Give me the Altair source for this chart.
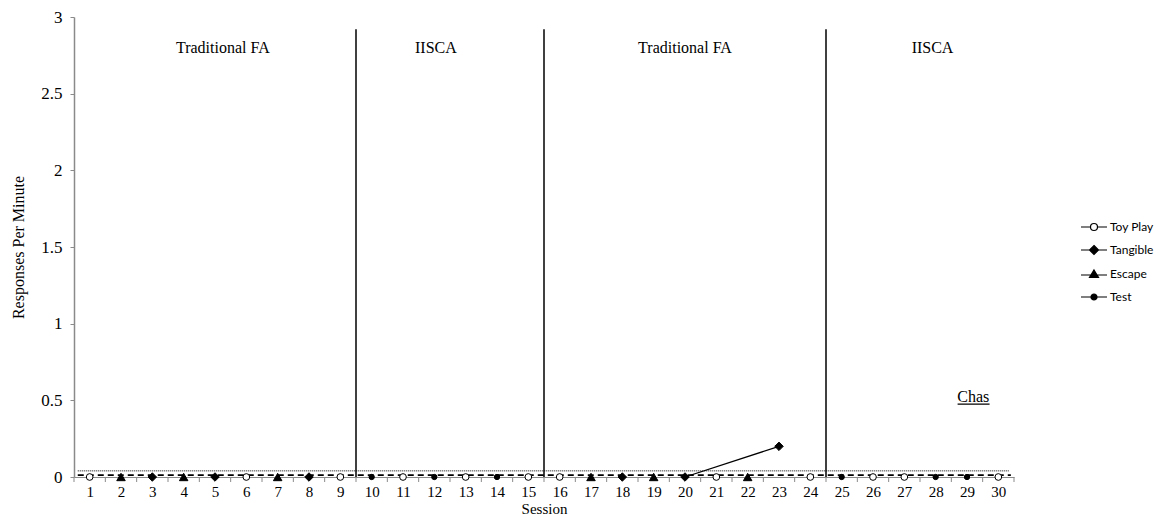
import altair as alt
import pandas as pd

# ---- data ----
sessions = list(range(1, 31))
conditions = ["Toy Play", "Escape", "Tangible", "Escape", "Tangible", "Toy Play",
              "Escape", "Tangible", "Toy Play", "Test", "Toy Play", "Test",
              "Toy Play", "Test", "Toy Play", "Toy Play", "Escape", "Tangible",
              "Escape", "Tangible", "Toy Play", "Escape", "Tangible", "Toy Play",
              "Test", "Toy Play", "Toy Play", "Test", "Test", "Toy Play"]
rates = [0, 0, 0, 0, 0, 0, 0, 0, 0, 0,
         0, 0, 0, 0, 0, 0, 0, 0, 0, 0,
         0, 0, 0.2, 0, 0, 0, 0, 0, 0, 0]
condition_order = ["Toy Play", "Tangible", "Escape", "Test"]
connected_sessions = [20, 23]

phase_bounds = [9.5, 15.5, 24.5]
phase_top = [2.92, 2.92, 2.92]
phase_names = ["Traditional FA", "IISCA", "Traditional FA", "IISCA"]
phase_label_x = [5.25, 12.05, 20.0, 27.9]
phase_label_y = [2.8, 2.8, 2.8, 2.8]

ref_names = ["dotted", "dashed"]
ref_levels = [0.04, 0.012]
ref_start = [0.62, 0.62]
ref_end = [30.33, 30.4]

participant = ["Chas"]
participant_x = [29.2]
participant_y = [0.52]
underline_start = [28.7]
underline_end = [29.72]
underline_y = [0.475]

tick_positions = [s - 0.5 for s in sessions] + [30.5]
y_values = [0, 0.5, 1, 1.5, 2, 2.5, 3]

# marker styles per condition
marker_shape = {"Toy Play": "circle", "Tangible": "diamond", "Escape": "triangle-up", "Test": "circle"}
marker_fill = {"Toy Play": "white", "Tangible": "black", "Escape": "black", "Test": "black"}
marker_size = {"Toy Play": 45, "Tangible": 72, "Escape": 72, "Test": 28}

# ---- tables ----
df = pd.DataFrame({"session": sessions, "condition": conditions, "rate": rates})
phases = pd.DataFrame({"bound": phase_bounds, "top": phase_top})
labels = pd.DataFrame({"name": phase_names, "x": phase_label_x, "y": phase_label_y})
refs = pd.DataFrame({"name": ref_names, "level": ref_levels, "x0": ref_start, "x1": ref_end})
part = pd.DataFrame({"name": participant, "x": participant_x, "y": participant_y,
                     "u0": underline_start, "u1": underline_end, "uy": underline_y})
ticks = pd.DataFrame({"pos": tick_positions})

GREY = "#8a8a8a"
SERIF = "Liberation Serif, Times New Roman, Times, serif"
W, H = 940, 460

xs = alt.Scale(domain=[0.5, 30.5], nice=False, zero=False)
ys = alt.Scale(domain=[0, 3], nice=False, zero=True)
x_axis = alt.Axis(values=sessions, ticks=False, grid=False, domainColor=GREY, domainWidth=1,
                  labelFont=SERIF, labelFontSize=15, labelColor="black", labelPadding=7,
                  labelFlush=False, labelOverlap=False,
                  title="Session", titleFont=SERIF, titleFontSize=15, titleFontWeight="normal",
                  titleColor="black", titlePadding=2)
y_axis = alt.Axis(values=y_values, format="~g", grid=False, domainColor=GREY, domainWidth=1.5,
                  tickColor=GREY, tickSize=4, labelFont=SERIF, labelFontSize=17,
                  labelColor="black", labelPadding=8, labelFlush=False,
                  title="Responses Per Minute", titleFont=SERIF, titleFontSize=16,
                  titleFontWeight="normal", titleColor="black", titlePadding=14)

def X(field):
    return alt.X(field, type="quantitative", scale=xs, axis=x_axis)

def Y(field):
    return alt.Y(field, type="quantitative", scale=ys, axis=y_axis)

tick_layer = alt.Chart(ticks).mark_rule(color=GREY, strokeWidth=1).encode(
    x=X("pos"), y=alt.value(H), y2=alt.value(H + 5))

dotted = alt.Chart(refs).transform_filter("datum.name == 'dotted'").mark_rule(
    color="black", strokeWidth=1, strokeDash=[1, 1]).encode(
    x=X("x0"), x2="x1", y=Y("level"))

dashed = alt.Chart(refs).transform_filter("datum.name == 'dashed'").mark_rule(
    color="black", strokeWidth=1.6, strokeDash=[6, 4]).encode(
    x=X("x0"), x2="x1", y=Y("level"))

phase_lines = alt.Chart(phases).mark_rule(color="black", strokeWidth=1.5).encode(
    x=X("bound"), y=Y("top"), y2=alt.datum(0))

connector = alt.Chart(df).transform_filter(
    alt.FieldOneOfPredicate(field="session", oneOf=connected_sessions)
).mark_line(color="black", strokeWidth=1.3).encode(x=X("session"), y=Y("rate"))

point_layers = []
for cond in condition_order:
    point_layers.append(
        alt.Chart(df).transform_filter(alt.FieldEqualPredicate(field="condition", equal=cond))
        .mark_point(shape=marker_shape[cond], fill=marker_fill[cond], filled=True,
                    stroke="black", strokeWidth=1, size=marker_size[cond], opacity=1)
        .encode(x=X("session"), y=Y("rate"))
    )

legend_paths = [
    "M-1.3,0L-0.35,0M0.35,0L1.3,0M0.35,0A0.35,0.35,0,1,1,-0.35,0A0.35,0.35,0,1,1,0.35,0Z",
    "M-1.3,0L1.3,0M0,-0.45L0.45,0L0,0.45L-0.45,0Z",
    "M-1.3,0.1L1.3,0.1M0,-0.4L0.45,0.35L-0.45,0.35Z",
    "M-1.3,0L1.3,0M0.3,0A0.3,0.3,0,1,1,-0.3,0A0.3,0.3,0,1,1,0.3,0Z",
]
legend_layer = alt.Chart(df).transform_filter("datum.session < 0").mark_point(
    filled=True, strokeWidth=1.2).encode(
    x=X("session"), y=Y("rate"),
    shape=alt.Shape("condition:N", scale=alt.Scale(domain=condition_order, range=legend_paths),
                    legend=alt.Legend(title=None, orient="none", legendX=1009, legendY=199,
                                      symbolSize=400, symbolStrokeColor="black",
                                      symbolStrokeWidth=1.2, symbolOpacity=1,
                                      labelFont="Lato", labelFontSize=12, labelColor="black",
                                      labelOffset=5, rowPadding=6, padding=0)),
    fill=alt.Fill("condition:N", scale=alt.Scale(domain=condition_order,
                  range=["white", "black", "black", "black"])),
    stroke=alt.Stroke("condition:N", scale=alt.Scale(domain=condition_order,
                      range=["black", "black", "black", "black"])),
)

phase_text = alt.Chart(labels).mark_text(font=SERIF, fontSize=16, color="black").encode(
    x=X("x"), y=Y("y"), text="name:N")

part_text = alt.Chart(part).mark_text(font=SERIF, fontSize=16, color="black").encode(
    x=X("x"), y=Y("y"), text="name:N")
part_line = alt.Chart(part).mark_rule(color="black", strokeWidth=1.2).encode(
    x=X("u0"), x2="u1", y=Y("uy"))

chart = alt.layer(
    tick_layer, dotted, phase_lines, connector, dashed, *point_layers, legend_layer,
    phase_text, part_text, part_line
).properties(
    width=W, height=H,
    autosize=alt.AutoSizeParams(type="none"),
    padding={"left": 66, "top": 9, "right": 141, "bottom": 38},
    background="white",
).configure_view(stroke=None)

chart.save("out.html", embed_options={"renderer": "svg", "actions": False})
